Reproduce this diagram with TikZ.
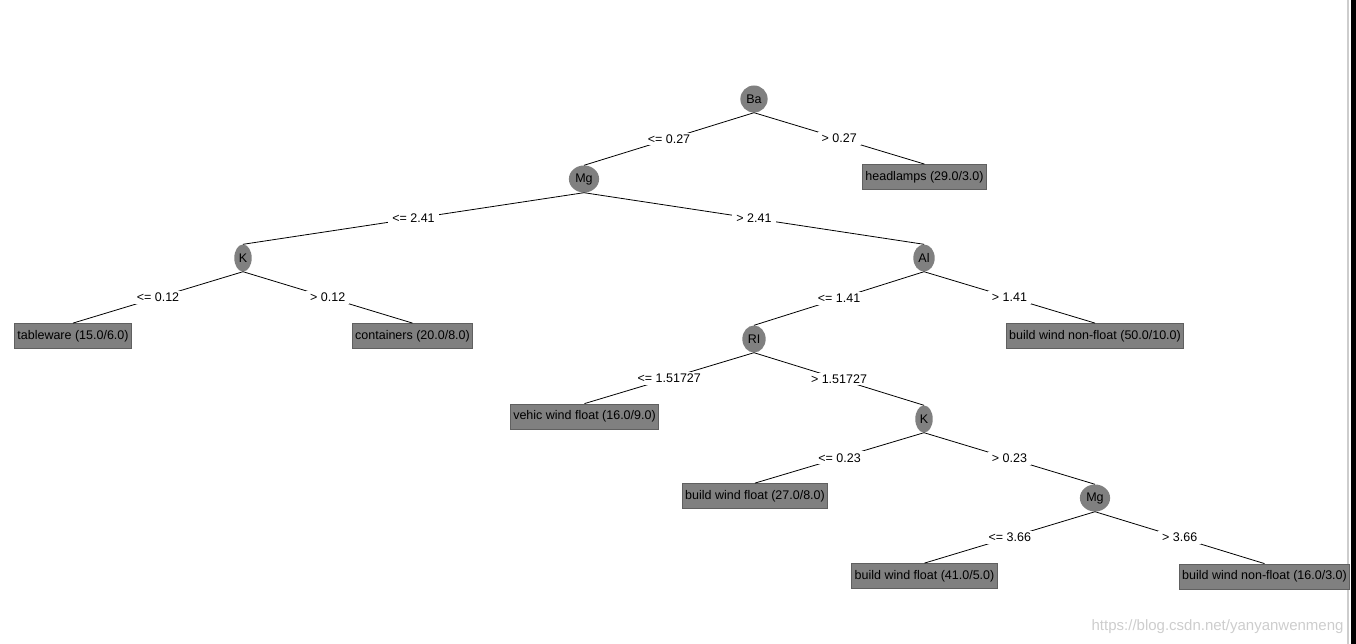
\documentclass[tikz,border=0pt]{standalone}
\usepackage{fontspec}
\setmainfont{Liberation Sans}
\usepackage{xcolor}
\usepackage{tikz}
\usetikzlibrary{shapes.geometric,positioning}
\definecolor{nodegray}{RGB}{128,128,128}
\definecolor{edgegray}{RGB}{96,96,96}
\definecolor{markgray}{RGB}{205,205,205}

\begin{document}
\begin{tikzpicture}[x=1pt,y=-1pt,
    split/.style={ellipse,fill=nodegray,inner xsep=2pt,inner ysep=0pt,minimum height=27pt,font=\fontsize{12.5}{14}\selectfont},
    leaf/.style={rectangle,fill=nodegray,draw=edgegray,line width=0.8pt,inner xsep=3pt,minimum height=25pt,font=\fontsize{12.5}{14}\selectfont},
    cond/.style={midway,fill=white,inner xsep=4pt,inner ysep=2pt,font=\fontsize{12.5}{14}\selectfont},
    branch/.style={line width=0.8pt}]
  \useasboundingbox (0,0) rectangle (1356,644);
  % right frame
  \fill[markgray] (1347,0) rectangle (1349,644);
  \fill[black] (1351,0) rectangle (1356,644);
  % inner nodes
  \node[split] (ba)  at (754,99)  {Ba};
  \node[split] (mg)  at (584,179) {Mg};
  \node[split] (k)   at (243,258) {K};
  \node[split] (al)  at (924,258) {Al};
  \node[split] (ri)  at (754,339) {RI};
  \node[split] (k2)  at (924,419) {K};
  \node[split] (mg2) at (1095,498) {Mg};
  % leaves
  \node[leaf] (headlamps)  at (924.5,177) {headlamps (29.0/3.0)};
  \node[leaf] (tableware)  at (73,336)    {tableware (15.0/6.0)};
  \node[leaf] (containers) at (412.5,336) {containers (20.0/8.0)};
  \node[leaf] (nonfloatA)  at (1095,336)  {build wind non-float (50.0/10.0)};
  \node[leaf] (vehic)      at (584.5,416.5) {vehic wind float (16.0/9.0)};
  \node[leaf] (floatA)     at (755,496)   {build wind float (27.0/8.0)};
  \node[leaf] (floatB)     at (924.5,576) {build wind float (41.0/5.0)};
  \node[leaf] (nonfloatB)  at (1264.5,576.5) {build wind non-float (16.0/3.0)};
  % branches
  \draw[branch] (ba.south) -- (mg.north) node[cond] {<= 0.27};
  \draw[branch] (ba.south) -- (headlamps.north) node[cond] {> 0.27};
  \draw[branch] (mg.south) -- (k.north) node[cond] {<= 2.41};
  \draw[branch] (mg.south) -- (al.north) node[cond] {> 2.41};
  \draw[branch] (k.south) -- (tableware.north) node[cond] {<= 0.12};
  \draw[branch] (k.south) -- (containers.north) node[cond] {> 0.12};
  \draw[branch] (al.south) -- (ri.north) node[cond] {<= 1.41};
  \draw[branch] (al.south) -- (nonfloatA.north) node[cond] {> 1.41};
  \draw[branch] (ri.south) -- (vehic.north) node[cond] {<= 1.51727};
  \draw[branch] (ri.south) -- (k2.north) node[cond] {> 1.51727};
  \draw[branch] (k2.south) -- (floatA.north) node[cond] {<= 0.23};
  \draw[branch] (k2.south) -- (mg2.north) node[cond] {> 0.23};
  \draw[branch] (mg2.south) -- (floatB.north) node[cond] {<= 3.66};
  \draw[branch] (mg2.south) -- (nonfloatB.north) node[cond] {> 3.66};
  % watermark
  \node[anchor=east,text=markgray,font=\fontsize{15}{17}\selectfont] (mark) at (1347,627) {https://blog.csdn.net/yanyanwenmeng};
\end{tikzpicture}
\end{document}
